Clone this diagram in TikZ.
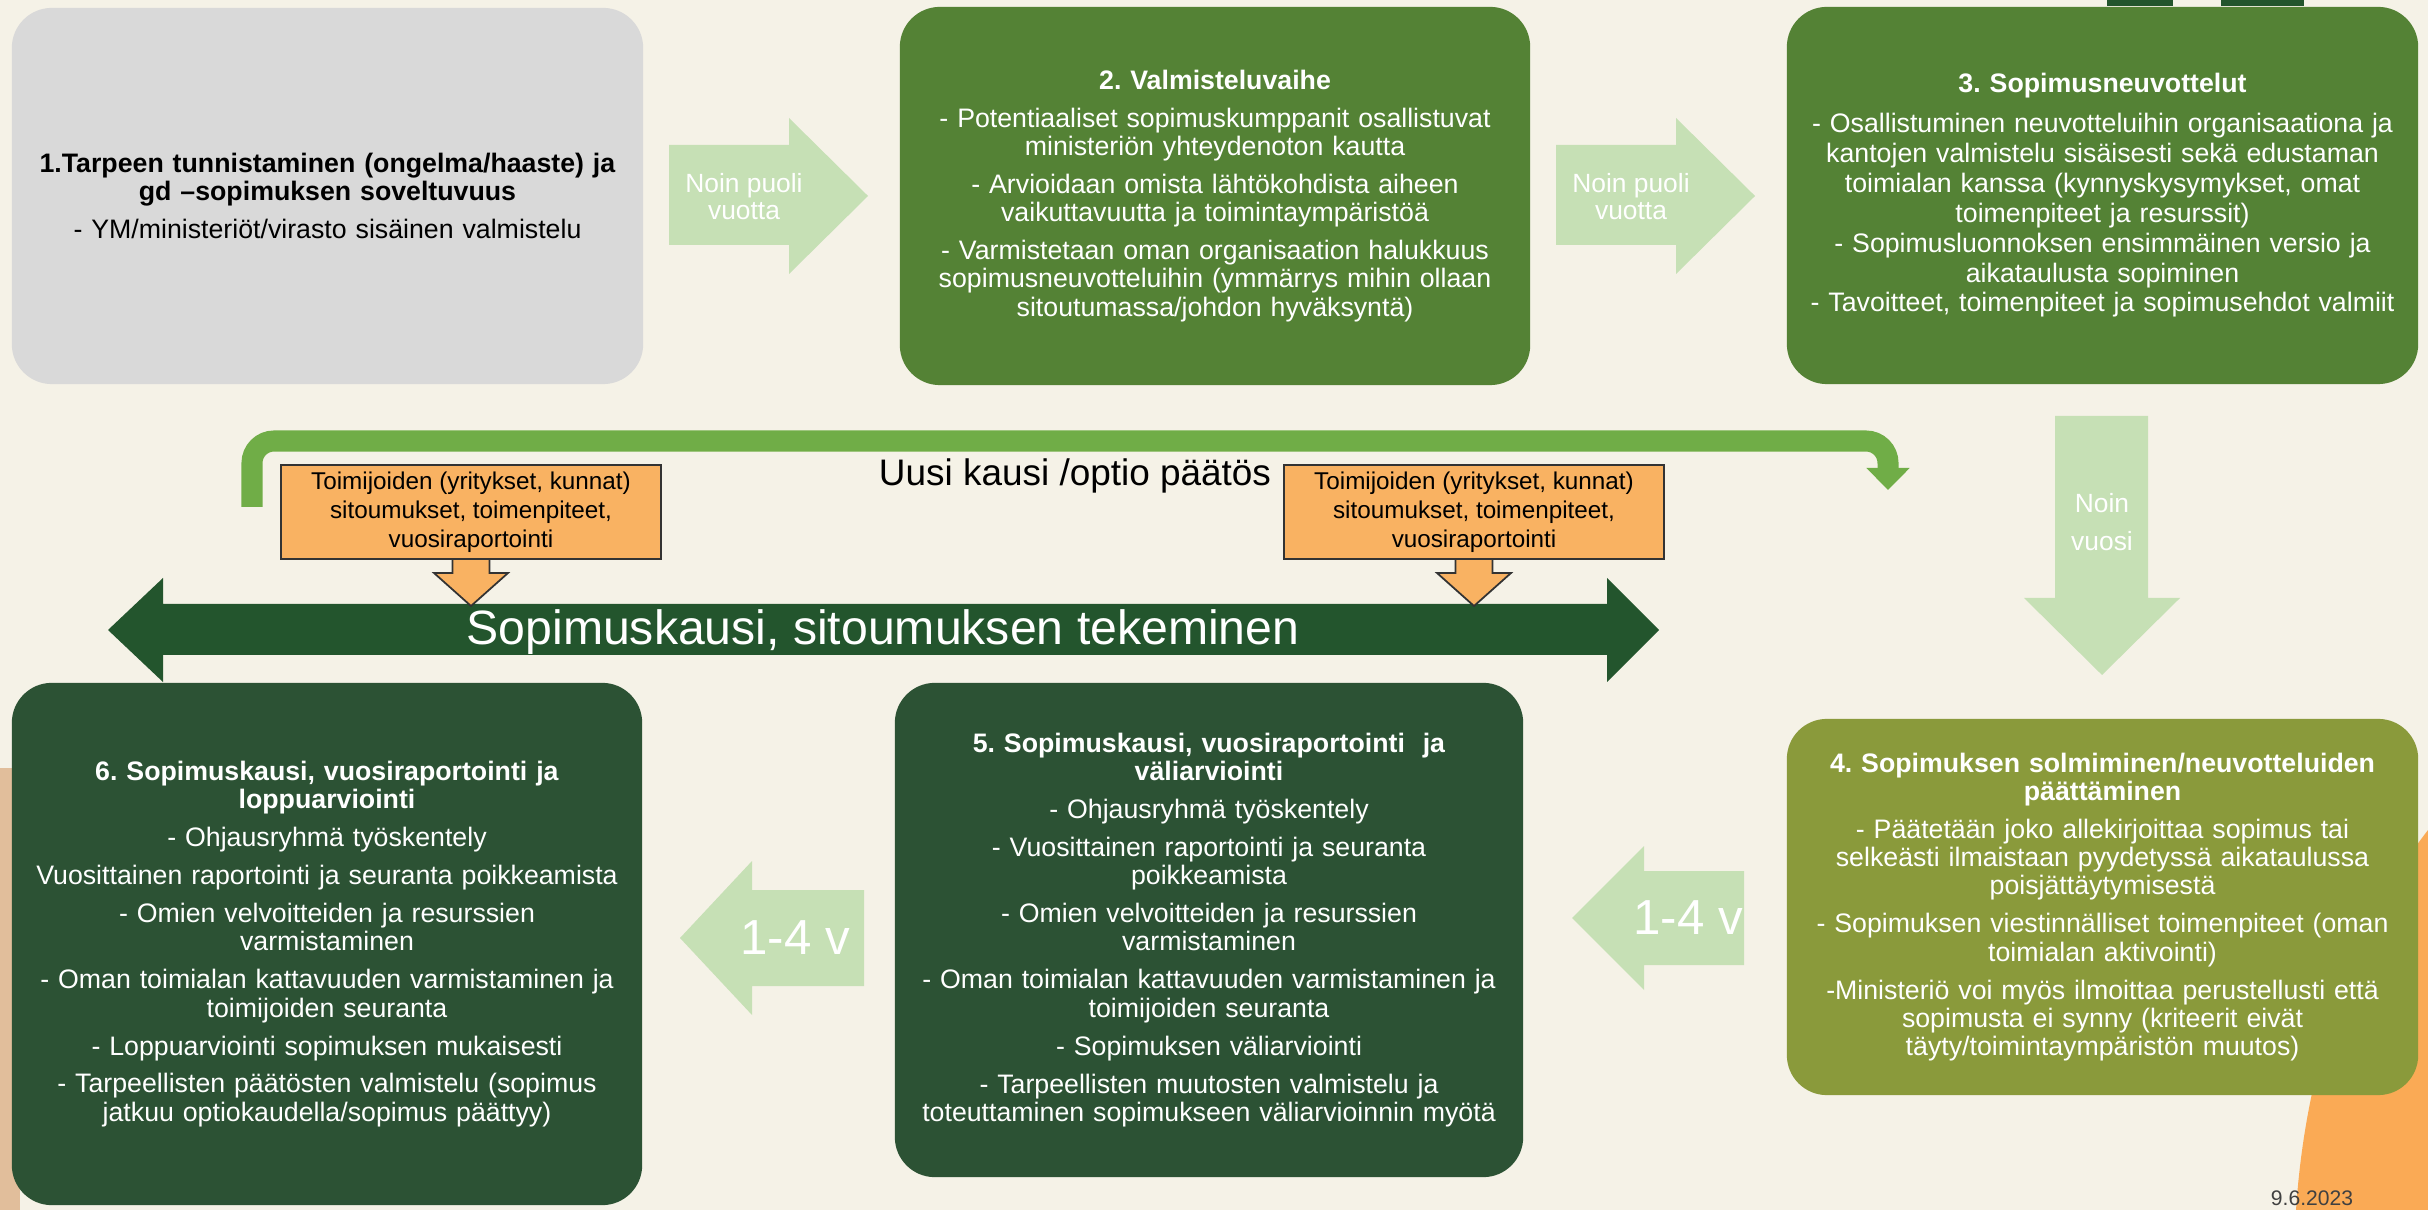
\documentclass[tikz,border=0pt]{standalone}
\usepackage{fontspec}
\setmainfont{Liberation Sans}
\usetikzlibrary{arrows.meta}
\definecolor{bgcream}{RGB}{245,242,231}
\definecolor{phasegray}{RGB}{217,217,217}
\definecolor{phasegreen}{RGB}{84,130,53}
\definecolor{phaseolive}{RGB}{138,154,59}
\definecolor{phasedark}{RGB}{44,82,52}
\definecolor{bandgreen}{RGB}{35,85,45}
\definecolor{stepgreen}{RGB}{198,224,181}
\definecolor{loopgreen}{RGB}{112,173,71}
\definecolor{noteorange}{RGB}{249,178,98}
\definecolor{decoorange}{RGB}{250,170,85}
\definecolor{decotan}{RGB}{225,190,155}
\newcommand{\phasefont}{\fontsize{7.6}{8}\selectfont}
\newcommand{\pgap}{\\[2.8pt]}
\frenchspacing

\begin{document}
\begin{tikzpicture}[x=0.01cm,y=-0.01cm,
    phasebox/.style={rounded corners=0.4cm, inner sep=0pt, text width=6.15cm, align=center, font=\phasefont, text=white},
    orangebox/.style={fill=noteorange, draw=black!80, line width=0.5pt, minimum width=3.8cm, minimum height=0.94cm, align=center, inner sep=0pt, font=\fontsize{6.9}{8.3}\selectfont},
    steptext/.style={text=white, align=center, inner sep=0pt}]
    \useasboundingbox (0,0) rectangle (2428,1210);
    \fill[bgcream] (0,0) rectangle (2428,1210);

    % decorations at the edges
    \fill[decotan] (0,768) rectangle (20,1210);
    \fill[decoorange] (2428,830) .. controls (2350,930) and (2305,1070) .. (2296,1210) -- (2428,1210) -- cycle;
    \fill[bandgreen] (2107,0) rectangle (2173,6);
    \fill[bandgreen] (2221,0) rectangle (2304,6);

    % phases
    \node[phasebox, fill=phasegray, text=black, minimum width=6.31cm, minimum height=3.76cm] (phase1) at (327.5,196)
        {\textbf{1.Tarpeen tunnistaminen (ongelma/haaste) ja}\\ \textbf{gd –sopimuksen soveltuvuus}\pgap
         - YM/ministeriöt/virasto sisäinen valmistelu};
    \node[phasebox, fill=phasegreen, minimum width=6.30cm, minimum height=3.78cm] (phase2) at (1215,196)
        {\textbf{2. Valmisteluvaihe}\pgap
         - Potentiaaliset sopimuskumppanit osallistuvat\\ ministeriön yhteydenoton kautta\pgap
         - Arvioidaan omista lähtökohdista aiheen\\ vaikuttavuutta ja toimintaympäristöä\pgap
         - Varmistetaan oman organisaation halukkuus\\ sopimusneuvotteluihin (ymmärrys mihin ollaan\\ sitoutumassa/johdon hyväksyntä)};
    \node[phasebox, fill=phasegreen, minimum width=6.31cm, minimum height=3.77cm, font=\fontsize{7.6}{8.5}\selectfont] (phase3) at (2102.5,195.5)
        {\textbf{3. Sopimusneuvottelut}\pgap
         - Osallistuminen neuvotteluihin organisaationa ja\\ kantojen valmistelu sisäisesti sekä edustaman\\ toimialan kanssa (kynnyskysymykset, omat\\ toimenpiteet ja resurssit)\\
         - Sopimusluonnoksen ensimmäinen versio ja\\ aikataulusta sopiminen\\
         - Tavoitteet, toimenpiteet ja sopimusehdot valmiit};
    \node[phasebox, fill=phaseolive, minimum width=6.31cm, minimum height=3.76cm] (phase4) at (2102.5,907)
        {\textbf{4. Sopimuksen solmiminen/neuvotteluiden}\\ \textbf{päättäminen}\pgap
         - Päätetään joko allekirjoittaa sopimus tai\\ selkeästi ilmaistaan pyydetyssä aikataulussa\\ poisjättäytymisestä\pgap
         - Sopimuksen viestinnälliset toimenpiteet (oman\\ toimialan aktivointi)\pgap
         -Ministeriö voi myös ilmoittaa perustellusti että\\ sopimusta ei synny (kriteerit eivät\\ täyty/toimintaympäristön muutos)};
    \node[phasebox, fill=phasedark, minimum width=6.28cm, minimum height=4.94cm] (phase5) at (1209,930)
        {\textbf{5. Sopimuskausi, vuosiraportointi \ ja}\\ \textbf{väliarviointi}\pgap
         - Ohjausryhmä työskentely\pgap
         - Vuosittainen raportointi ja seuranta\\ poikkeamista\pgap
         - Omien velvoitteiden ja resurssien\\ varmistaminen\pgap
         - Oman toimialan kattavuuden varmistaminen ja\\ toimijoiden seuranta\pgap
         - Sopimuksen väliarviointi\pgap
         - Tarpeellisten muutosten valmistelu ja\\ toteuttaminen sopimukseen väliarvioinnin myötä};
    \node[phasebox, fill=phasedark, minimum width=6.30cm, minimum height=5.22cm] (phase6) at (327,944)
        {\textbf{6. Sopimuskausi, vuosiraportointi ja}\\ \textbf{loppuarviointi}\pgap
         - Ohjausryhmä työskentely\pgap
         Vuosittainen raportointi ja seuranta poikkeamista\pgap
         - Omien velvoitteiden ja resurssien\\ varmistaminen\pgap
         - Oman toimialan kattavuuden varmistaminen ja\\ toimijoiden seuranta\pgap
         - Loppuarviointi sopimuksen mukaisesti\pgap
         - Tarpeellisten päätösten valmistelu (sopimus\\ jatkuu optiokaudella/sopimus päättyy)};

    % light green step arrows
    \foreach \ax/\nm in {669/step12,1556/step23}{
        \fill[stepgreen] (\ax,145) -- ({\ax+120},145) -- ({\ax+120},118) -- ({\ax+199},196)
            -- ({\ax+120},274) -- ({\ax+120},245) -- (\ax,245) -- cycle;
        \node[steptext, font=\fontsize{7.5}{7.7}\selectfont] (\nm) at ({\ax+75},197) {Noin puoli\\vuotta};
    }
    \fill[stepgreen] (2055,416) -- (2148,416) -- (2148,598) -- (2180,598) -- (2102,675) -- (2024,598) -- (2055,598) -- cycle;
    \node[steptext, font=\fontsize{7.5}{10.8}\selectfont] (step34) at (2102,522) {Noin\\vuosi};
    \fill[stepgreen] (1572,918) -- (1644,846) -- (1644,871) -- (1744,871) -- (1744,965) -- (1644,965) -- (1644,990) -- cycle;
    \node[steptext, font=\fontsize{14}{16}\selectfont] (step45) at (1688,918) {1-4 v};
    \fill[stepgreen] (680,938) -- (752,861) -- (752,890) -- (864,890) -- (864,986) -- (752,986) -- (752,1015) -- cycle;
    \node[steptext, font=\fontsize{14}{16}\selectfont] (step56) at (795,938) {1-4 v};

    % loop back to negotiations
    \draw[loopgreen, line width=0.21cm, rounded corners=0.22cm, -{Triangle[width=0.42cm,length=0.22cm]}]
        (252,507) -- (252,441) -- (1888,441) -- (1888,490);
    \node[font=\fontsize{10.5}{12}\selectfont, inner sep=0pt] (loop) at (1075,476) {Uusi kausi /optio päätös};

    % contract period band
    \fill[bandgreen] (108,630) -- (163,578) -- (163,604) -- (1607,604) -- (1607,578) -- (1659,630)
        -- (1607,682) -- (1607,655) -- (163,655) -- (163,682) -- cycle;
    \node[text=white, font=\fontsize{13.7}{15}\selectfont, inner sep=0pt] (band) at (883,632) {Sopimuskausi, sitoumuksen tekeminen};

    % commitments of actors
    \foreach \cx/\nm in {471/note1,1474/note2}{
        \filldraw[fill=noteorange, draw=black!80, line width=0.5pt] ({\cx-18.5},559) -- ({\cx+18.5},559) -- ({\cx+18.5},573)
            -- ({\cx+37},573) -- (\cx,606) -- ({\cx-37},573) -- ({\cx-18.5},573) -- cycle;
        \node[orangebox] (\nm) at (\cx,512) {Toimijoiden (yritykset, kunnat)\\ sitoumukset, toimenpiteet,\\ vuosiraportointi};
    }

    \node[text=black!75, font=\fontsize{6}{7}\selectfont, inner sep=0pt] (date) at (2312,1198) {9.6.2023};
\end{tikzpicture}
\end{document}
